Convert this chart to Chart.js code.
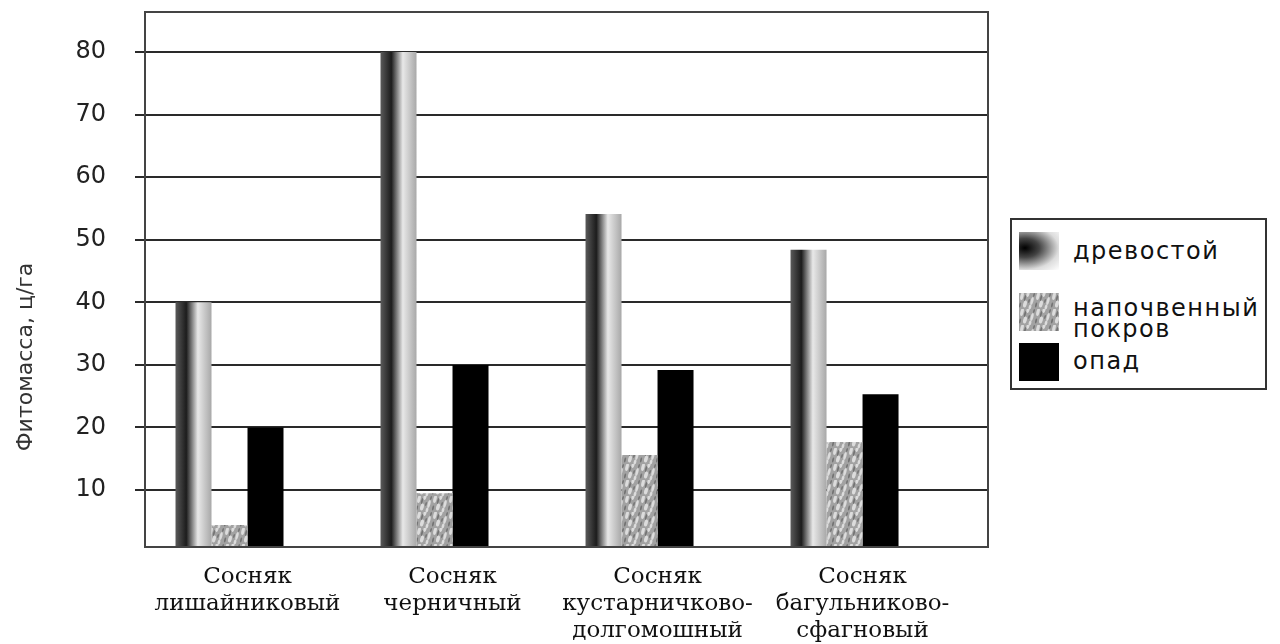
<!DOCTYPE html>
<html lang="ru">
<head>
<meta charset="utf-8">
<title>Фитомасса</title>
<script src="https://cdn.jsdelivr.net/npm/chart.js@4"></script>
<style>
  html, body { margin: 0; padding: 0; background: #fff; }
  #wrap { position: relative; width: 1280px; height: 644px; overflow: hidden; }
  #chart { position: absolute; left: 0; top: 0; }
  #ytitle {
    position: absolute; left: -125px; top: 344px; width: 300px; text-align: center;
    font: 22px "DejaVu Sans", sans-serif; color: #333; line-height: 26px;
    transform: rotate(-90deg); transform-origin: 50% 50%;
  }
  #legend {
    position: absolute; left: 1010px; top: 218px; width: 257px; height: 172px;
    border: 2px solid #333; box-sizing: border-box; background: #fff;
  }
  .item { position: absolute; left: 0; }
  .item .sw { position: absolute; left: 7px; width: 40px; height: 38px; }
  .item .tx {
    position: absolute; left: 61px; white-space: nowrap;
    font: 24px "DejaVu Sans", sans-serif; letter-spacing: 1.5px; line-height: 21px; color: #111;
  }
  .item:nth-child(1) { top: 12px; } .item:nth-child(1) .tx { top: 9px; }
  .item:nth-child(2) { top: 73px; } .item:nth-child(2) .tx { top: 5px; }
  .item:nth-child(3) { top: 123px; } .item:nth-child(3) .tx { top: 8px; }
</style>
</head>
<body>
<div id="wrap">
  <canvas id="chart" width="1280" height="644"></canvas>
  <div id="ytitle">Фитомасса, ц/га</div>
  <div id="legend"></div>
</div>
<script>
// --- данные ---
const categories = [
  ['Сосняк', 'лишайниковый'],
  ['Сосняк', 'черничный'],
  ['Сосняк', 'кустарничково-', 'долгомошный'],
  ['Сосняк', 'багульниково-', 'сфагновый']
]
const seriesNames = ['древостой', ['напочвенный', 'покров'], 'опад']
const drevostoy = [40, 80, 54.1, 48.4]
const napochvenny = [4.4, 9.5, 15.6, 17.7]
const opad = [20, 30, 29.2, 25.3]
const yTicks = [10, 20, 30, 40, 50, 60, 70, 80]

// --- заливки ---
function makeTexture() {
  const c = document.createElement('canvas')
  c.width = 16; c.height = 16
  const g = c.getContext('2d')
  g.fillStyle = '#a2a2a2'
  g.fillRect(0, 0, 16, 16)
  g.fillStyle = '#dcdcdc'
  ;[[3, 3, 1.6, 4], [9, 1, 1.5, 3], [13, 8, 1.4, 4], [6, 11, 1.8, 3.5], [11, 14, 1.3, 2.5]].forEach(([x, y, rx, ry]) => {
    g.beginPath(); g.ellipse(x, y, rx, ry, 0.25, 0, Math.PI * 2); g.fill()
  })
  g.fillStyle = '#747474'
  ;[[6, 5, 0.9, 3], [15, 2, 0.8, 2], [1, 12, 0.9, 2.5], [10, 8, 0.8, 2]].forEach(([x, y, rx, ry]) => {
    g.beginPath(); g.ellipse(x, y, rx, ry, 0.25, 0, Math.PI * 2); g.fill()
  })
  return c
}
const texture = makeTexture()
const ctx = document.getElementById('chart').getContext('2d')
const texturePattern = ctx.createPattern(texture, 'repeat')

function cylinderFill(context) {
  const el = context.element
  if (!el || !el.width) return '#777'
  const x0 = el.x - el.width / 2
  const g = context.chart.ctx.createLinearGradient(x0, 0, x0 + el.width, 0)
  g.addColorStop(0, '#5a5a5a')
  g.addColorStop(0.3, '#1c1c1c')
  g.addColorStop(0.62, '#e8e8e8')
  g.addColorStop(1, '#a8a8a8')
  return g
}

const toPoints = arr => arr.map((v, i) => ({ x: i + 1, y: v }))

// рамка области построения
const framePlugin = {
  id: 'frame',
  afterDatasetsDraw(chart) {
    const { left, top, right, bottom } = chart.chartArea
    const c = chart.ctx
    c.save()
    c.strokeStyle = '#444'
    c.lineWidth = 2
    c.strokeRect(left, top, right - left, bottom - top)
    c.restore()
  }
}

const chart = new Chart(ctx, {
  type: 'bar',
  data: {
    datasets: [
      { label: 'древостой', data: toPoints(drevostoy), backgroundColor: cylinderFill },
      { label: 'напочвенный покров', data: toPoints(napochvenny), backgroundColor: texturePattern },
      { label: 'опад', data: toPoints(opad), backgroundColor: '#000' },
      // пустой ряд — держит место четвёртого столбца в группе
      { label: '', data: toPoints(categories.map(() => null)), backgroundColor: 'rgba(0,0,0,0)' }
    ]
  },
  plugins: [framePlugin],
  options: {
    responsive: false,
    animation: false,
    layout: { autoPadding: false, padding: { top: 12, right: 292, left: 0, bottom: 0 } },
    datasets: { bar: { categoryPercentage: 0.7024, barPercentage: 1, borderWidth: 0 } },
    plugins: { legend: { display: false }, tooltip: { enabled: false } },
    scales: {
      x: {
        type: 'linear',
        offset: false,
        min: 0.5,
        max: 4.612,
        afterBuildTicks: s => { s.ticks = categories.map((c, i) => ({ value: i + 1 })) },
        afterFit: s => { s.height = 97 },
        grid: { display: false, drawTicks: false },
        border: { display: true, color: '#444', width: 2 },
        ticks: {
          autoSkip: false, maxRotation: 0, padding: 16, color: '#111',
          font: { family: '"DejaVu Serif", serif', size: 23, lineHeight: 1.18 },
          callback: v => categories[v - 1]
        }
      },
      y: {
        min: 0.9,
        max: 86.4,
        afterBuildTicks: s => { s.ticks = yTicks.map(v => ({ value: v })) },
        // ширина оси фиксирована; отступы подписей не должны сдвигать верх рамки
        afterFit: s => { s.width = 145; s.paddingTop = 0; s.paddingBottom = 0 },
        grid: { color: '#2a2a2a', lineWidth: 2, drawTicks: true, tickLength: 10, tickColor: '#2a2a2a', tickWidth: 2 },
        border: { display: true, color: '#2a2a2a', width: 2 },
        ticks: {
          padding: 29, color: '#222',
          font: { family: '"DejaVu Sans", sans-serif', size: 24 }
        }
      }
    }
  }
})
// второй проход — градиенты строятся по уже известным размерам столбцов
chart.update('none')

// --- легенда ---
const swatches = [
  'radial-gradient(ellipse at 15% 42%, #000 0%, #444 30%, #ddd 70%, #fff 100%)',
  'url(' + texture.toDataURL() + ')',
  '#000'
]
const legend = document.getElementById('legend')
seriesNames.forEach((name, i) => {
  const item = document.createElement('div')
  item.className = 'item'
  const sw = document.createElement('div')
  sw.className = 'sw'
  sw.style.background = swatches[i]
  const tx = document.createElement('div')
  tx.className = 'tx'
  tx.innerHTML = [].concat(name).join('<br>')
  item.appendChild(sw)
  item.appendChild(tx)
  legend.appendChild(item)
})
</script>
</body>
</html>
